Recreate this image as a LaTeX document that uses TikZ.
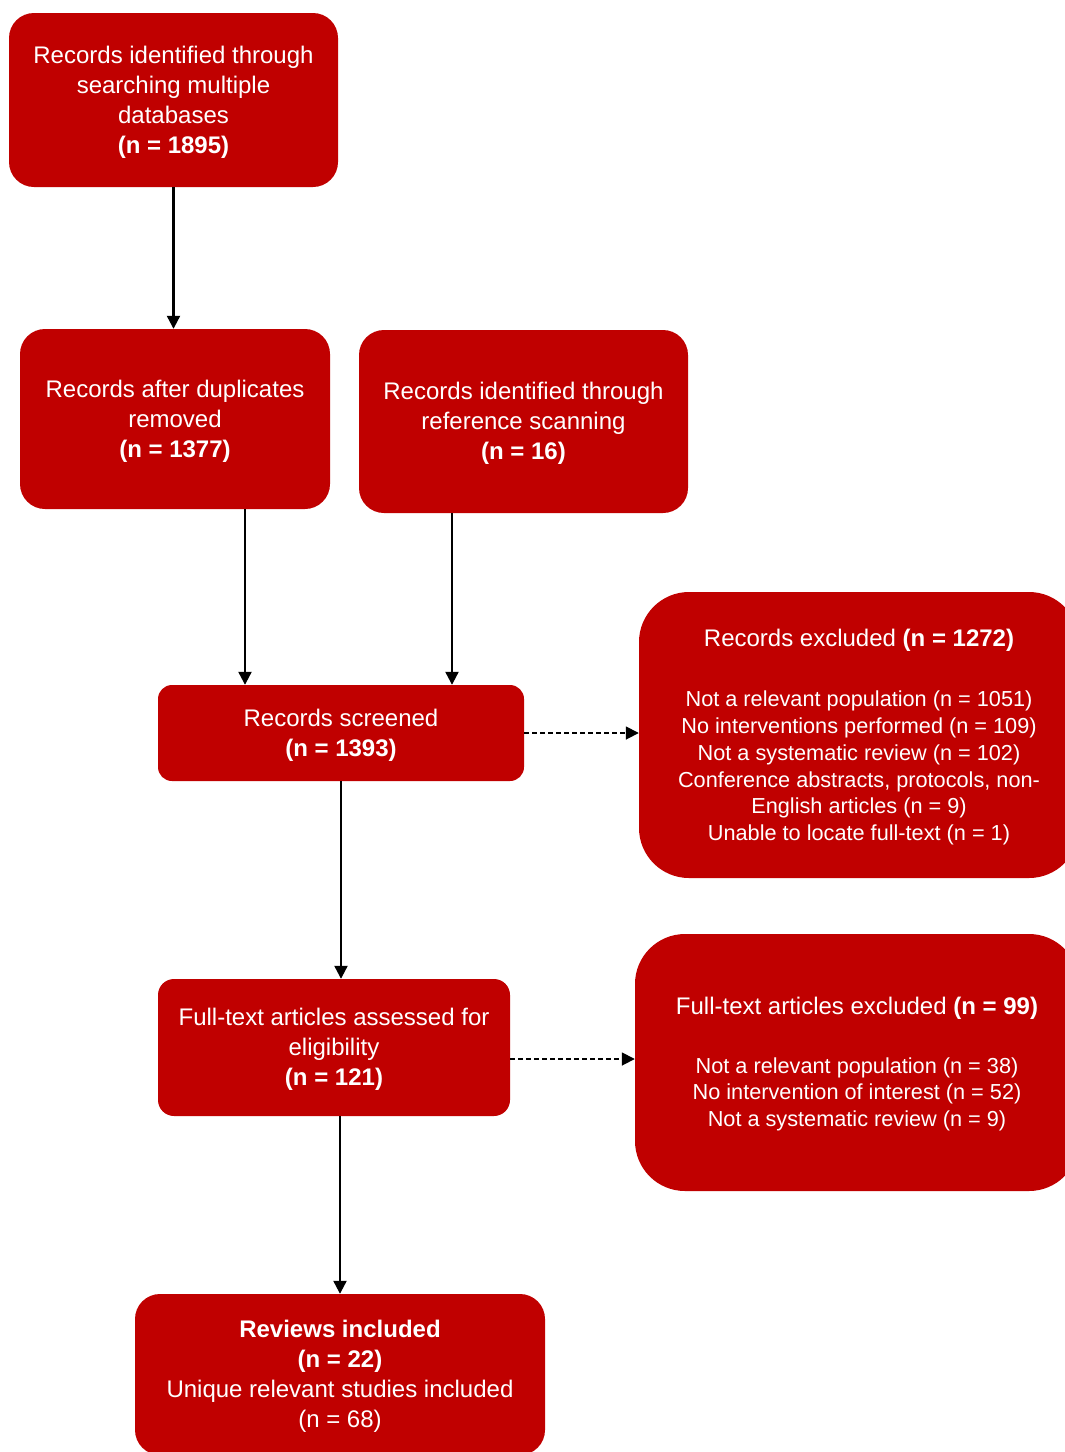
\documentclass[tikz,border=0pt]{standalone}
\usepackage{fontspec}
\setmainfont{Liberation Sans}
\usetikzlibrary{arrows.meta}
\definecolor{boxred}{RGB}{192,0,0}
\newcommand\topstrut{\rule{0pt}{21.5pt}}
\begin{document}
\begin{tikzpicture}[x=1pt,y=-1pt,
  box/.style={fill=boxred, draw=none, text=white, align=center, inner sep=0pt,
    font=\fontsize{24}{30}\selectfont},
  lbl/.style={text=white, align=center, inner sep=0pt},
  arr/.style={-{Triangle[length=13pt,width=13pt]}, line width=2.2pt, black},
  darr/.style={-{Triangle[length=13pt,width=13pt]}, line width=1.7pt, black, dash pattern=on 5pt off 3pt}]
\useasboundingbox (0,0) rectangle (1065,1452);
\clip (0,0) rectangle (1065,1452);

\node[box, rounded corners=25pt, minimum width=329pt, minimum height=174pt] (b1) at (173.5,100)
  {\topstrut Records identified through\\searching multiple\\databases\\\textbf{(n = 1895)}};
\node[box, rounded corners=25pt, minimum width=310pt, minimum height=180pt] (b2) at (175,419)
  {\topstrut Records after duplicates\\removed\\\textbf{(n = 1377)}};
\node[box, rounded corners=25pt, minimum width=329pt, minimum height=183pt] (b3) at (523.5,421.5)
  {\topstrut Records identified through\\reference scanning\\\textbf{(n = 16)}};
\node[box, rounded corners=14pt, minimum width=366pt, minimum height=96pt] (b4) at (341,733)
  {\topstrut Records screened\\\textbf{(n = 1393)}};
\node[box, rounded corners=50pt, minimum width=440pt, minimum height=286pt] (b5) at (859,735) {};
\node[lbl, font=\fontsize{24}{30}\selectfont] (b5t) at (859,640) {Records excluded \textbf{(n = 1272)}};
\node[lbl, font=\fontsize{21.7}{26.8}\selectfont] (b5l) at (859,768)
  {Not a relevant population (n = 1051)\\No interventions performed (n = 109)\\Not a systematic review (n = 102)\\Conference abstracts, protocols, non-\\English articles (n = 9)\\Unable to locate full-text (n = 1)};
\node[box, rounded corners=16pt, minimum width=352pt, minimum height=137pt] (b6) at (334,1047.5)
  {\topstrut Full-text articles assessed for\\eligibility\\\textbf{(n = 121)}};
\node[box, rounded corners=50pt, minimum width=444pt, minimum height=257pt] (b7) at (857,1062.5) {};
\node[lbl, font=\fontsize{24}{30}\selectfont] (b7t) at (857,1008) {Full-text articles excluded \textbf{(n = 99)}};
\node[lbl, font=\fontsize{21.7}{26.5}\selectfont] (b7l) at (857,1094)
  {Not a relevant population (n = 38)\\No intervention of interest (n = 52)\\Not a systematic review (n = 9)};
\node[box, rounded corners=25pt, minimum width=410pt, minimum height=161pt] (b8) at (340,1374.5)
  {\topstrut\textbf{Reviews included}\\\textbf{(n = 22)}\\Unique relevant studies included\\(n = 68)};

\draw[arr] (b1.south) -- (b1.south |- b2.north);
\draw[arr] ([xshift=70pt]b2.south) -- ([xshift=70pt]b2.south |- b4.north);
\draw[arr] ([xshift=-71.5pt]b3.south) -- ([xshift=-71.5pt]b3.south |- b4.north);
\draw[darr] (b4.east) -- (b4.east -| b5.west);
\draw[arr] (b4.south) -- (b4.south |- b6.north);
\draw[darr] ([yshift=-11.5pt]b6.east) -- ([yshift=-11.5pt]b6.east -| b7.west);
\draw[arr] ([xshift=6pt]b6.south) -- ([xshift=6pt]b6.south |- b8.north);
\end{tikzpicture}
\end{document}
